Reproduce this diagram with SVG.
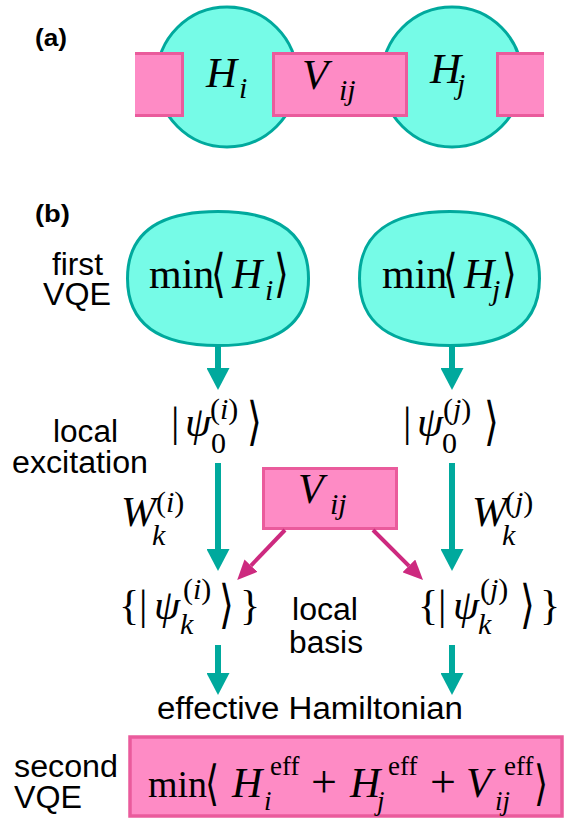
<svg xmlns="http://www.w3.org/2000/svg" width="566" height="819" viewBox="0 0 566 819">
<style>
.sans{font-family:"Liberation Sans",Arial,sans-serif;font-size:31px;fill:#000}
.bold{font-weight:bold;font-size:24px}
.m{font-family:"Liberation Serif","DejaVu Serif",serif;font-size:42px;fill:#000}
.A{font-size:43px}
.B{font-size:38px}
.it{font-style:italic}
.s{font-size:30px}
.sb{font-size:27px}
.ang{font-family:"DejaVu Sans","DejaVu Serif",serif;font-size:40px;fill:#000}
.teal{fill:#76fbe7;stroke:#00a99d;stroke-width:3}
.pink{fill:#fe8bc5;stroke:#ea5b9c;stroke-width:3}
.pfill{fill:#fe8bc5;stroke:none}
.pedge{fill:none;stroke:#ea5b9c;stroke-width:3}
.tline{stroke:#00a99d;stroke-width:6;fill:none}
.mline{stroke:#cd2a7f;stroke-width:4;fill:none}
</style>
<defs>
<marker id="ta" markerUnits="userSpaceOnUse" viewBox="0 0 22 23" markerWidth="22" markerHeight="23" refX="0" refY="11.5" orient="auto"><path d="M0,0 L22,11.5 L0,23 z" fill="#00a99d"/></marker>
<marker id="ma" markerUnits="userSpaceOnUse" viewBox="0 0 20 18" markerWidth="20" markerHeight="18" refX="0" refY="9" orient="auto"><path d="M0,0 L20,9 L0,18 z" fill="#cd2a7f"/></marker>
</defs>

<!-- (a) -->
<text class="sans bold" x="35" y="46" textLength="32" lengthAdjust="spacingAndGlyphs">(a)</text>
<g id="a-Hi">
<circle class="teal" cx="227" cy="77" r="70"/>
</g>
<g id="a-Hj">
<circle class="teal" cx="452" cy="77" r="70"/>
</g>
<g id="a-left">
<rect class="pfill" x="135" y="52" width="49" height="65"/>
<path class="pedge" d="M135,53.5 H182.5 V115.5 H135"/>
</g>
<g id="a-Vij">
<rect class="pink" x="273.5" y="53.5" width="133" height="62"/>
</g>
<g id="a-right">
<rect class="pfill" x="496" y="52" width="48" height="65"/>
<path class="pedge" d="M544,53.5 H497.5 V115.5 H544"/>
</g>
<g id="a-labels">
<text class="m A it" x="206" y="87">H</text><text class="m it s" x="239" y="98">i</text>
<text class="m A it" x="302" y="89">V</text><text class="m it s" x="339" y="100">ij</text>
<text class="m A it" x="430" y="83">H</text><text class="m it s" x="457" y="94">j</text>
</g>

<!-- (b) -->
<text class="sans bold" x="35" y="222" textLength="35" lengthAdjust="spacingAndGlyphs">(b)</text>
<text class="sans" x="52" y="275" textLength="51" lengthAdjust="spacingAndGlyphs">first</text>
<text class="sans" x="43" y="305" textLength="68" lengthAdjust="spacingAndGlyphs">VQE</text>
<text class="sans" x="53" y="442" textLength="65" lengthAdjust="spacingAndGlyphs">local</text>
<text class="sans" x="12" y="473" textLength="136" lengthAdjust="spacingAndGlyphs">excitation</text>
<text class="sans" x="292" y="620" textLength="66" lengthAdjust="spacingAndGlyphs">local</text>
<text class="sans" x="289" y="653" textLength="74" lengthAdjust="spacingAndGlyphs">basis</text>
<text class="sans" x="157" y="719" textLength="306" lengthAdjust="spacingAndGlyphs">effective Hamiltonian</text>
<text class="sans" x="14" y="777" textLength="104" lengthAdjust="spacingAndGlyphs">second</text>
<text class="sans" x="14" y="808" textLength="68" lengthAdjust="spacingAndGlyphs">VQE</text>

<g id="minHi">
<path class="teal" d="M218,211.5 C278,211.5 308.5,234 308.5,278.5 C308.5,323 278,345.5 218,345.5 C158,345.5 127.5,323 127.5,278.5 C127.5,234 158,211.5 218,211.5 Z"/>
<text class="m" x="149" y="288">min</text>
<text class="ang" transform="translate(211,291) scale(0.95,1.3)">⟨</text>
<text class="m it" x="232" y="288">H</text>
<text class="m it s" x="265" y="300">i</text>
<text class="ang" transform="translate(274,291) scale(0.95,1.3)">⟩</text>
</g>
<g id="minHj">
<path class="teal" d="M450,211.5 C509.5,211.5 539.5,234 539.5,278.5 C539.5,323 509.5,345.5 450,345.5 C390.5,345.5 359.5,323 359.5,278.5 C359.5,234 390.5,211.5 450,211.5 Z"/>
<text class="m" x="382" y="288">min</text>
<text class="ang" transform="translate(443,291) scale(0.95,1.3)">⟨</text>
<text class="m it" x="464" y="288">H</text>
<text class="m it s" x="492" y="300">j</text>
<text class="ang" transform="translate(502,291) scale(0.95,1.3)">⟩</text>
</g>

<g id="psi0i">
<text class="m" x="171" y="436">|</text>
<text class="m it" x="185" y="436">ψ</text>
<text class="m s" x="210" y="419">(<tspan class="it">i</tspan>)</text>
<text class="m s" x="211" y="453">0</text>
<text class="ang" transform="translate(247,439) scale(0.95,1.3)">⟩</text>
</g>
<g id="psi0j">
<text class="m" x="403" y="436">|</text>
<text class="m it" x="417" y="436">ψ</text>
<text class="m s" x="443" y="419">(<tspan class="it">j</tspan>)</text>
<text class="m s" x="442" y="453">0</text>
<text class="ang" transform="translate(484,439) scale(0.95,1.3)">⟩</text>
</g>

<g id="Wi">
<text class="m it" x="121" y="526">W</text>
<text class="m s" x="156" y="512">(<tspan class="it">i</tspan>)</text>
<text class="m it s" x="152" y="545">k</text>
</g>
<g id="Wj">
<text class="m it" x="472" y="526">W</text>
<text class="m s" x="505" y="512">(<tspan class="it">j</tspan>)</text>
<text class="m it s" x="502" y="545">k</text>
</g>

<g id="Vij">
<rect class="pink" x="263.5" y="468.5" width="133" height="60"/>
<text class="m it" x="298" y="503">V</text>
<text class="m it s" x="330" y="514">ij</text>
</g>

<g id="psiki">
<text class="m" x="119" y="619">{</text>
<text class="m" x="139" y="619">|</text>
<text class="m it" x="154" y="619">ψ</text>
<text class="m s" x="183" y="599">(<tspan class="it">i</tspan>)</text>
<text class="m it s" x="180" y="634">k</text>
<text class="ang" transform="translate(219,622) scale(0.95,1.3)">⟩</text>
<text class="m" x="240" y="619">}</text>
</g>
<g id="psikj">
<text class="m" x="418" y="619">{</text>
<text class="m" x="438" y="619">|</text>
<text class="m it" x="453" y="619">ψ</text>
<text class="m s" x="480" y="599">(<tspan class="it">j</tspan>)</text>
<text class="m it s" x="478" y="634">k</text>
<text class="ang" transform="translate(520,622) scale(0.95,1.3)">⟩</text>
<text class="m" x="540" y="619">}</text>
</g>

<g id="secondVQE">
<rect x="130" y="737" width="432" height="79" fill="#fe8bc5" stroke="#ea5b9c" stroke-width="3.5"/>
<text class="m B" x="148" y="797">min</text>
<text class="ang" transform="translate(205,800) scale(0.9,1.2)">⟨</text>
<text class="m it" x="232" y="797">H</text>
<text class="m sb" x="270" y="775">eff</text>
<text class="m it sb" x="264" y="810">i</text>
<text class="m" x="311" y="797" style="font-size:46px">+</text>
<text class="m it" x="350" y="797">H</text>
<text class="m sb" x="388" y="775">eff</text>
<text class="m it sb" x="377" y="810">j</text>
<text class="m" x="430" y="797" style="font-size:46px">+</text>
<text class="m it" x="466" y="797">V</text>
<text class="m sb" x="504" y="775">eff</text>
<text class="m it sb" x="495" y="810">ij</text>
<text class="ang" transform="translate(534,800) scale(0.9,1.2)">⟩</text>
</g>

<g id="connectors">
<path class="tline" d="M218,346 V368" marker-end="url(#ta)"/>
<path class="tline" d="M452,346 V368" marker-end="url(#ta)"/>
<path class="tline" d="M218,463 V549" marker-end="url(#ta)"/>
<path class="tline" d="M452,463 V549" marker-end="url(#ta)"/>
<path class="tline" d="M218,645 V673" marker-end="url(#ta)"/>
<path class="tline" d="M452,645 V673" marker-end="url(#ta)"/>
<path class="mline" d="M285,530 L251,565.6" marker-end="url(#ma)"/>
<path class="mline" d="M373,530 L408.9,565.9" marker-end="url(#ma)"/>
</g>
</svg>
